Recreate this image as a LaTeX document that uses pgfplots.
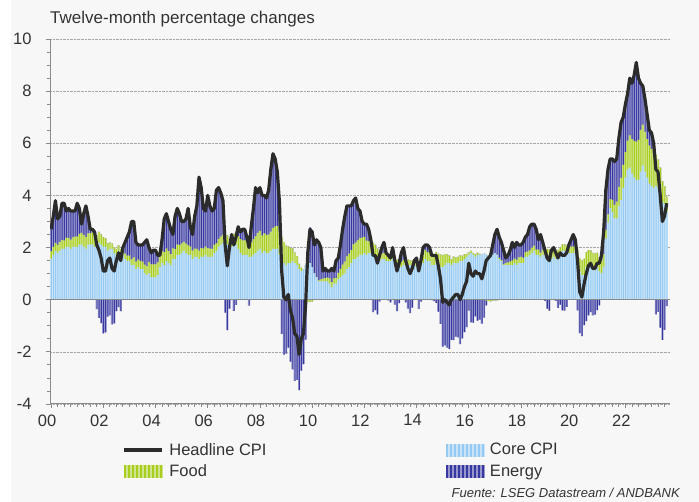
\documentclass[border=0pt]{standalone}
\usepackage{pgfplots}
\usepackage{pgfplotstable}
\pgfplotsset{compat=1.18}
\usepackage{fontspec}
\setmainfont{Liberation Sans}
\definecolor{bg}{HTML}{F7F7F7}
\definecolor{coreL}{HTML}{C9E4F9}
\definecolor{coreD}{HTML}{93C9F3}
\definecolor{foodL}{HTML}{CFE48C}
\definecolor{foodD}{HTML}{A8CD1C}
\definecolor{enL}{HTML}{9797CC}
\definecolor{enD}{HTML}{3838A2}
\definecolor{linec}{HTML}{2B2B2B}
\definecolor{txt}{HTML}{333333}
\definecolor{axc}{HTML}{8A8A8A}
\pgfplotstableread{
c f e h
1.56 0.29 0.85 2.7
1.72 0.31 1.17 3.2
1.87 0.31 1.62 3.8
1.79 0.31 1.00 3.1
1.87 0.34 0.99 3.2
1.95 0.34 1.41 3.7
1.95 0.32 1.43 3.7
2.03 0.34 1.03 3.4
2.03 0.34 1.13 3.5
1.95 0.35 1.10 3.4
2.03 0.36 1.01 3.4
2.03 0.39 0.98 3.4
2.03 0.39 1.28 3.7
2.11 0.42 0.97 3.5
2.11 0.45 0.34 2.9
2.03 0.45 0.82 3.3
1.95 0.45 1.20 3.6
2.11 0.43 0.66 3.2
2.11 0.43 0.16 2.7
2.11 0.46 0.13 2.7
2.03 0.43 0.14 2.6
2.03 0.43 -0.36 2.1
2.18 0.42 -0.70 1.9
2.11 0.39 -0.90 1.6
2.03 0.36 -1.29 1.1
2.03 0.32 -1.25 1.1
1.87 0.28 -0.65 1.5
1.95 0.25 -0.60 1.6
1.95 0.20 -0.95 1.2
1.79 0.22 -0.91 1.1
1.72 0.22 -0.44 1.5
1.87 0.21 -0.28 1.8
1.72 0.22 -0.44 1.5
1.72 0.18 0.10 2.0
1.56 0.21 0.43 2.2
1.48 0.21 0.71 2.4
1.48 0.21 0.91 2.6
1.33 0.22 1.45 3.0
1.33 0.29 1.38 3.0
1.17 0.29 0.74 2.2
1.25 0.29 0.56 2.1
1.17 0.32 0.61 2.1
1.17 0.29 0.64 2.1
1.01 0.34 0.85 2.2
0.94 0.35 1.01 2.3
1.01 0.43 0.56 2.0
0.86 0.50 0.44 1.8
0.86 0.50 0.54 1.9
0.86 0.50 0.54 1.9
0.94 0.49 0.27 1.7
1.25 0.42 0.03 1.7
1.40 0.46 0.44 2.3
1.33 0.50 1.27 3.1
1.48 0.48 1.34 3.3
1.40 0.46 1.14 3.0
1.33 0.42 0.95 2.7
1.56 0.41 0.53 2.5
1.56 0.38 1.26 3.2
1.72 0.39 1.39 3.5
1.72 0.38 1.20 3.3
1.79 0.36 0.85 3.0
1.87 0.35 0.78 3.0
1.79 0.36 0.95 3.1
1.72 0.36 1.42 3.5
1.72 0.32 0.76 2.8
1.56 0.32 0.62 2.5
1.64 0.32 1.24 3.2
1.64 0.31 1.65 3.6
1.56 0.32 2.82 4.7
1.64 0.34 2.32 4.3
1.64 0.32 1.54 3.5
1.72 0.32 1.36 3.4
1.64 0.34 2.02 4.0
1.64 0.32 1.64 3.6
1.64 0.31 1.45 3.4
1.79 0.31 1.40 3.5
1.87 0.29 2.04 4.2
2.03 0.29 1.98 4.3
2.11 0.31 1.68 4.1
2.18 0.32 1.30 3.8
2.26 0.34 -0.50 2.1
2.11 0.36 -1.17 1.3
2.03 0.31 -0.34 2.0
2.03 0.29 0.18 2.5
2.11 0.42 -0.43 2.1
2.11 0.49 -0.20 2.4
1.95 0.49 0.36 2.8
1.79 0.53 0.28 2.6
1.72 0.56 0.42 2.7
1.72 0.56 0.42 2.7
1.72 0.56 0.12 2.4
1.64 0.59 -0.23 2.0
1.64 0.56 0.60 2.8
1.72 0.59 1.19 3.5
1.79 0.64 1.87 4.3
1.87 0.69 1.54 4.1
1.95 0.69 1.66 4.3
1.79 0.67 1.54 4.0
1.87 0.67 1.46 4.0
1.79 0.70 1.41 3.9
1.79 0.71 1.70 4.2
1.87 0.74 2.39 5.0
1.95 0.81 2.84 5.6
1.95 0.85 2.60 5.4
1.95 0.87 2.08 4.9
1.72 0.88 1.10 3.7
1.56 0.85 -1.31 1.1
1.40 0.81 -2.11 0.1
1.33 0.74 -2.07 0.0
1.40 0.64 -1.84 0.2
1.40 0.57 -2.37 -0.4
1.48 0.49 -2.67 -0.7
1.40 0.41 -3.11 -1.3
1.33 0.34 -3.07 -1.4
1.17 0.20 -3.47 -2.1
1.09 0.13 -2.72 -1.5
1.17 0.00 -2.47 -1.3
1.33 -0.07 -1.46 -0.2
1.33 -0.08 0.55 1.8
1.40 -0.07 1.37 2.7
1.25 -0.06 1.41 2.6
1.01 -0.01 1.10 2.1
0.86 0.01 1.43 2.3
0.70 0.04 1.46 2.2
0.70 0.08 1.22 2.0
0.70 0.11 0.29 1.1
0.70 0.13 0.37 1.2
0.70 0.15 0.25 1.1
0.62 0.20 0.28 1.1
0.47 0.20 0.53 1.2
0.62 0.20 0.28 1.1
0.62 0.21 0.67 1.5
0.78 0.25 0.57 1.6
0.86 0.32 0.92 2.1
0.94 0.41 1.35 2.7
1.01 0.45 1.74 3.2
1.17 0.49 1.94 3.6
1.25 0.52 1.83 3.6
1.40 0.50 1.70 3.6
1.56 0.56 1.68 3.8
1.56 0.63 1.71 3.9
1.64 0.64 1.22 3.5
1.72 0.64 1.04 3.4
1.72 0.66 0.62 3.0
1.79 0.62 0.49 2.9
1.72 0.55 0.63 2.9
1.79 0.46 0.45 2.7
1.79 0.43 0.08 2.3
1.79 0.39 -0.48 1.7
1.72 0.38 -0.40 1.7
1.64 0.32 -0.56 1.4
1.48 0.28 -0.06 1.7
1.56 0.22 0.22 2.0
1.56 0.24 0.40 2.2
1.48 0.25 0.07 1.8
1.48 0.25 -0.03 1.7
1.48 0.22 -0.10 1.6
1.56 0.22 0.22 2.0
1.48 0.21 -0.19 1.5
1.33 0.21 -0.44 1.1
1.33 0.20 -0.13 1.4
1.25 0.20 0.35 1.8
1.33 0.20 0.47 2.0
1.40 0.20 -0.10 1.5
1.33 0.21 -0.34 1.2
1.33 0.18 -0.51 1.0
1.33 0.17 -0.30 1.2
1.33 0.15 0.02 1.5
1.25 0.20 0.15 1.6
1.25 0.20 -0.35 1.1
1.33 0.24 -0.07 1.5
1.40 0.32 0.28 2.0
1.56 0.35 0.19 2.1
1.48 0.34 0.28 2.1
1.48 0.34 0.18 2.0
1.33 0.39 -0.02 1.7
1.33 0.42 -0.05 1.7
1.40 0.42 -0.12 1.7
1.33 0.43 -0.46 1.3
1.25 0.48 -0.93 0.8
1.25 0.45 -1.80 -0.1
1.33 0.42 -1.75 0.0
1.40 0.34 -1.84 -0.1
1.40 0.29 -1.89 -0.2
1.33 0.21 -1.54 0.0
1.40 0.25 -1.55 0.1
1.40 0.22 -1.42 0.2
1.40 0.24 -1.44 0.2
1.48 0.22 -1.70 0.0
1.48 0.20 -1.48 0.2
1.56 0.18 -1.24 0.5
1.64 0.11 -1.05 0.7
1.72 0.10 -0.42 1.4
1.79 0.08 -0.87 1.0
1.72 0.06 -0.88 0.9
1.64 0.10 -0.64 1.1
1.72 0.08 -0.80 1.0
1.72 0.04 -0.76 1.0
1.72 0.00 -0.92 0.8
1.79 -0.01 -0.68 1.1
1.72 -0.03 -0.19 1.5
1.64 -0.04 0.00 1.6
1.64 -0.06 0.12 1.7
1.72 -0.03 0.41 2.1
1.79 -0.03 0.74 2.5
1.72 -0.03 1.01 2.7
1.56 0.04 0.80 2.4
1.48 0.04 0.68 2.2
1.33 0.03 0.54 1.9
1.33 0.07 0.20 1.6
1.33 0.10 0.27 1.7
1.33 0.13 0.44 1.9
1.33 0.17 0.70 2.2
1.40 0.18 0.42 2.0
1.33 0.20 0.67 2.2
1.40 0.22 0.48 2.1
1.40 0.24 0.46 2.1
1.40 0.20 0.60 2.2
1.64 0.18 0.58 2.4
1.64 0.20 0.66 2.5
1.72 0.17 0.91 2.8
1.79 0.20 0.91 2.9
1.87 0.20 0.83 2.9
1.72 0.20 0.78 2.7
1.72 0.20 0.38 2.3
1.64 0.17 0.69 2.5
1.72 0.20 0.28 2.2
1.72 0.22 -0.04 1.9
1.72 0.22 -0.34 1.6
1.64 0.28 -0.42 1.5
1.56 0.29 0.05 1.9
1.64 0.25 0.11 2.0
1.56 0.28 -0.04 1.8
1.64 0.27 -0.31 1.6
1.72 0.27 -0.19 1.8
1.87 0.24 -0.41 1.7
1.87 0.25 -0.42 1.7
1.79 0.28 -0.27 1.8
1.79 0.28 0.03 2.1
1.79 0.25 0.26 2.3
1.79 0.25 0.46 2.5
1.87 0.25 0.18 2.3
1.64 0.27 -0.41 1.5
1.09 0.49 -1.28 0.3
0.94 0.56 -1.40 0.1
0.94 0.63 -0.97 0.6
1.25 0.57 -0.82 1.0
1.33 0.57 -0.60 1.3
1.33 0.55 -0.48 1.4
1.25 0.55 -0.60 1.2
1.25 0.52 -0.57 1.2
1.25 0.55 -0.40 1.4
1.09 0.53 -0.22 1.4
1.01 0.50 0.19 1.7
1.25 0.49 0.86 2.6
2.34 0.34 1.52 4.2
2.96 0.31 1.73 5.0
3.51 0.34 1.55 5.4
3.35 0.48 1.57 5.4
3.12 0.52 1.66 5.3
3.12 0.64 1.64 5.4
3.59 0.74 1.87 6.2
3.82 0.85 2.13 6.8
4.29 0.88 1.83 7.0
4.68 0.98 1.84 7.5
4.99 1.11 1.80 7.9
5.07 1.23 2.20 8.5
4.84 1.32 2.14 8.3
4.68 1.41 2.51 8.6
4.60 1.46 3.04 9.1
4.60 1.53 2.37 8.5
4.91 1.60 1.79 8.3
5.15 1.57 1.48 8.2
4.91 1.53 1.26 7.7
4.68 1.48 0.94 7.1
4.45 1.46 0.59 6.5
4.37 1.41 0.62 6.4
4.29 1.33 0.38 6.0
4.37 1.19 -0.56 5.0
4.29 1.08 -0.47 4.9
4.13 0.94 -1.07 4.0
3.74 0.80 -1.54 3.0
3.67 0.69 -1.16 3.2
3.35 0.60 -0.25 3.7
}\cpidata
\pgfplotsset{
  barwide/.style={ybar, bar width=1, bar shift=0pt, fill=#1, draw=none, forget plot},
  barnarrow/.style={ybar, bar width=0.42, bar shift=0.1, fill=#1, draw=none, forget plot},
}
\begin{document}
\begin{tikzpicture}
\useasboundingbox (0,0) rectangle (699bp,502bp);
\fill[white] (0,0) rectangle (699bp,502bp);
\fill[bg] (11bp,0) rectangle (699bp,502bp);
\node[anchor=base west, inner sep=0pt, text=txt, font=\fontsize{17bp}{20bp}\selectfont] at (50bp,478bp) {Twelve-month percentage changes};
\node[anchor=base east, inner sep=0pt, text=txt, font=\fontsize{13bp}{15bp}\selectfont\itshape] at (680bp,5bp) {Fuente: LSEG Datastream / ANDBANK};
\begin{axis}[
  at={(50bp,98bp)}, anchor=south west,
  scale only axis, width=620bp, height=365bp,
  xmin=-0.5, xmax=284.5, ymin=-4, ymax=10,
  axis x line*=bottom, axis y line*=left,
  axis line style={axc, line width=1bp},
  tick style={axc, line width=0.8bp},
  tick align=outside,
  major tick length=4bp, minor tick length=2.5bp,
  ytick={-4,-2,...,10}, minor y tick num=3,
  xtick={0,24,...,264},
  xticklabels={00,02,04,06,08,10,12,14,16,18,20,22},
  minor xtick={0,3,...,284},
  ymajorgrids,
  grid style={densely dotted, black!35, line width=0.6bp},
  ticklabel style={font=\fontsize{16.5bp}{19bp}\selectfont, text=txt},
  yticklabel style={xshift=-11bp},
  xticklabel style={xshift=-4bp, yshift=-3bp},
  /pgf/number format/assume math mode=true,
  legend columns=2,
  legend cell align=left,
  legend style={at={(0,0)}, anchor=north west, xshift=72bp, yshift=-37bp,
    draw=none, fill=none, inner sep=0pt, row sep=4bp,
    font=\fontsize{16.5bp}{19bp}\selectfont, text=txt,
    /tikz/every odd column/.append style={column sep=4bp},
    /tikz/every even column/.append style={column sep=177bp}},
]
\addlegendimage{legend image code/.code={\draw[linec, line width=3.2bp] (0bp,0bp) -- (38bp,0bp);}}
\addlegendentry{Headline CPI}
\addlegendimage{legend image code/.code={\fill[coreL] (0bp,-6bp) rectangle (38bp,6bp);
  \foreach \i in {0,4,...,36} {\fill[coreD] (\i bp,-6bp) rectangle (\i bp+1.3bp,6bp);}}}
\addlegendentry{Core CPI}
\addlegendimage{legend image code/.code={\fill[foodL] (0bp,-6bp) rectangle (38bp,6bp);
  \foreach \i in {0,4,...,36} {\fill[foodD] (\i bp,-6bp) rectangle (\i bp+1.3bp,6bp);}}}
\addlegendentry{Food}
\addlegendimage{legend image code/.code={\fill[enL] (0bp,-6bp) rectangle (38bp,6bp);
  \foreach \i in {0,4,...,36} {\fill[enD] (\i bp,-6bp) rectangle (\i bp+1.3bp,6bp);}}}
\addlegendentry{Energy}
% positive stack: energy on top of food on top of core
\addplot[barwide=enL] table[x expr=\coordindex, y expr={\thisrow{c}+max(\thisrow{f},0)+max(\thisrow{e},0)}]{\cpidata};
\addplot[barnarrow=enD] table[x expr=\coordindex, y expr={\thisrow{c}+max(\thisrow{f},0)+max(\thisrow{e},0)}]{\cpidata};
\addplot[barwide=foodL] table[x expr=\coordindex, y expr={\thisrow{c}+max(\thisrow{f},0)}]{\cpidata};
\addplot[barnarrow=foodD] table[x expr=\coordindex, y expr={\thisrow{c}+max(\thisrow{f},0)}]{\cpidata};
\addplot[barwide=coreL] table[x expr=\coordindex, y=c]{\cpidata};
\addplot[barnarrow=coreD] table[x expr=\coordindex, y=c]{\cpidata};
% negative parts below zero
\addplot[barwide=enL] table[x expr=\coordindex, y expr={min(\thisrow{e},0)+min(\thisrow{f},0)}]{\cpidata};
\addplot[barnarrow=enD] table[x expr=\coordindex, y expr={min(\thisrow{e},0)+min(\thisrow{f},0)}]{\cpidata};
\addplot[barwide=foodL] table[x expr=\coordindex, y expr={min(\thisrow{f},0)}]{\cpidata};
\addplot[barnarrow=foodD] table[x expr=\coordindex, y expr={min(\thisrow{f},0)}]{\cpidata};
\draw[axc, line width=1.3bp] (axis cs:-0.5,0) -- (axis cs:284.5,0);
\addplot[linec, line width=3.2bp, line join=round, forget plot]
  table[x expr=\coordindex, y=h]{\cpidata};
\end{axis}
\end{tikzpicture}
\end{document}
